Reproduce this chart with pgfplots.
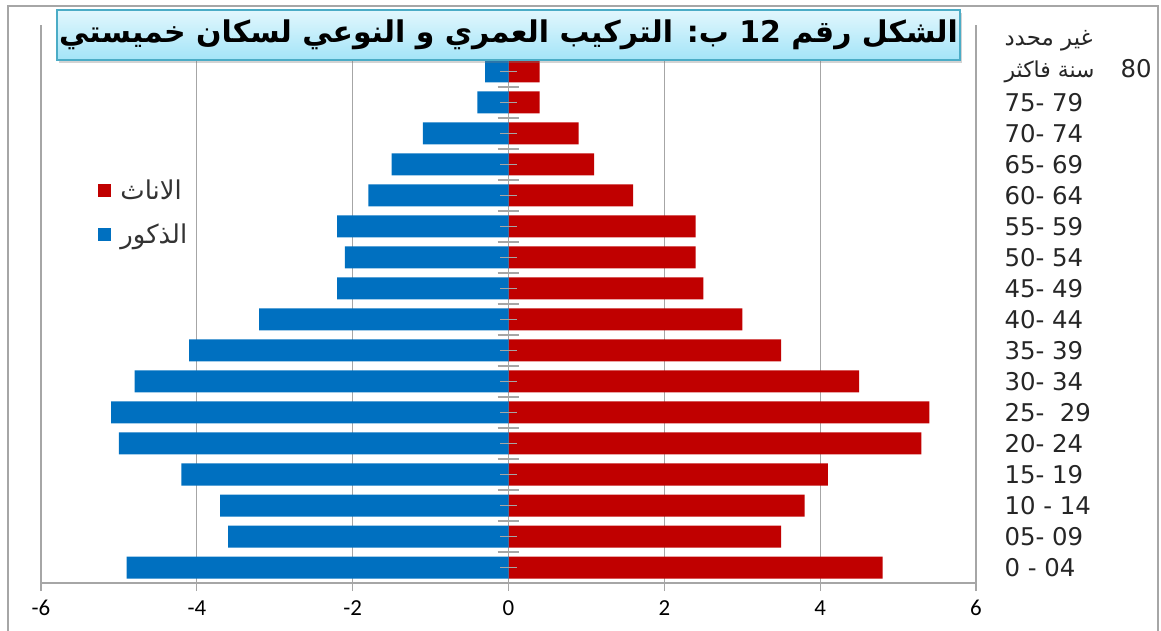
\documentclass[border=0pt]{standalone}
\usepackage{pgfplots}
\pgfplotsset{compat=1.18}
\usepackage{pgfplotstable}
\usepackage{fontspec}
\setmainfont{DejaVu Sans}
\newfontfamily\arabicfont[Script=Arabic]{DejaVu Sans}
\newfontfamily\carlito{Carlito}
\TeXXeTstate=1
\usetikzlibrary{shadows}
\definecolor{male}{HTML}{0070C0}
\definecolor{female}{HTML}{C00000}
\definecolor{gridgray}{HTML}{A6A6A6}
\definecolor{boxborder}{HTML}{4BACC6}
\definecolor{boxtop}{HTML}{E2F7FD}
\definecolor{boxbot}{HTML}{A3E4F8}

\pgfplotstableread{
pos male female
0  -4.9 4.8
1  -3.6 3.5
2  -3.7 3.8
3  -4.2 4.1
4  -5.0 5.3
5  -5.1 5.4
6  -4.8 4.5
7  -4.1 3.5
8  -3.2 3.0
9  -2.2 2.5
10 -2.1 2.4
11 -2.2 2.4
12 -1.8 1.6
13 -1.5 1.1
14 -1.1 0.9
15 -0.4 0.4
16 -0.3 0.4
}\pyramid

\begin{document}
\begin{tikzpicture}
\begin{axis}[
  name=ax,
  scale only axis, width=935bp, height=558bp,
  xmin=-6, xmax=6, ymin=-0.5, ymax=17.5,
  xtick={-6,-4,-2,0,2,4,6},
  axis x line*=bottom,
  axis y line*=right,
  y axis line style={draw=none},
  x axis line style={gridgray, line width=1.2bp},
  xtick style={gridgray, line width=1.2bp},
  major tick length=8bp,
  tick align=outside,
  xmajorgrids,
  grid style={gridgray, line width=1.2bp},
  /pgf/number format/assume math mode=true,
  xticklabel style={font=\carlito\fontsize{23}{23}\selectfont, yshift=-6bp},
  ytick={0,...,17},
  yticklabels={0 - 04, 05- 09, 10 - 14, 15- 19, 20- 24, 25-\ \ 29, 30- 34, 35- 39, 40- 44, 45- 49, 50- 54, 55- 59, 60- 64, 65- 69, 70- 74, 75- 79,
    {\makebox[116bp][l]{\arabicfont\fontsize{22}{22}\selectfont\beginR سنة فاكثر\endR}80},
    {\arabicfont\fontsize{23}{23}\selectfont\beginR غير محدد\endR}},
  ytick style={draw=none},
  yticklabel style={anchor=west, xshift=17bp, font=\fontsize{24.5}{24.5}\selectfont, text=black!85},
  legend style={at={(0.058,0.73)}, anchor=north west, draw=none, fill=none,
    font=\arabicfont\fontsize{26}{26}\selectfont, row sep=19bp, text=black!80,
    nodes={inner xsep=9bp}},
  legend cell align=left,
  legend image code/.code={\fill (0,-6.5bp) rectangle (13bp,6.5bp);},
]
\addplot[xbar, bar shift=0pt, bar width=22bp, fill=female, draw=none] table[x=female, y=pos] {\pyramid};
\addlegendentry{\beginR الاناث\endR}
\addplot[xbar, bar shift=0pt, bar width=22bp, fill=male, draw=none] table[x=male, y=pos] {\pyramid};
\addlegendentry{\beginR الذكور\endR}
\pgfplotsinvokeforeach{0,...,16}{
  \draw[gridgray, line width=1.2bp] (axis cs:-0.11,#1) -- (axis cs:0.11,#1);
  \draw[gridgray, line width=1.2bp] (axis cs:-0.14,{#1+0.5}) -- (axis cs:0.13,{#1+0.5});
}
\end{axis}
\begin{scope}[shift={(ax.south west)}, shift={(-41bp,-48bp)}]
\draw[gridgray, line width=2bp] (8bp,-10bp) -- (8bp,625bp) -- (1158bp,625bp) -- (1158bp,-10bp);
\node[rectangle, minimum width=903bp, minimum height=50bp, top color=boxtop, bottom color=boxbot,
  draw=boxborder, line width=2.5bp, drop shadow={shadow xshift=2bp, shadow yshift=-3bp, opacity=0.35},
  inner sep=0pt] at (508.5bp,596bp)
  {\arabicfont\bfseries\fontsize{30}{30}\selectfont\beginR الشكل رقم \beginL 12\endL{} ب: التركيب العمري و النوعي لسكان خميستي\endR};
\pgfresetboundingbox
\path[use as bounding box] (0,0) rectangle (1161bp,631bp);
\end{scope}
\end{tikzpicture}
\end{document}
